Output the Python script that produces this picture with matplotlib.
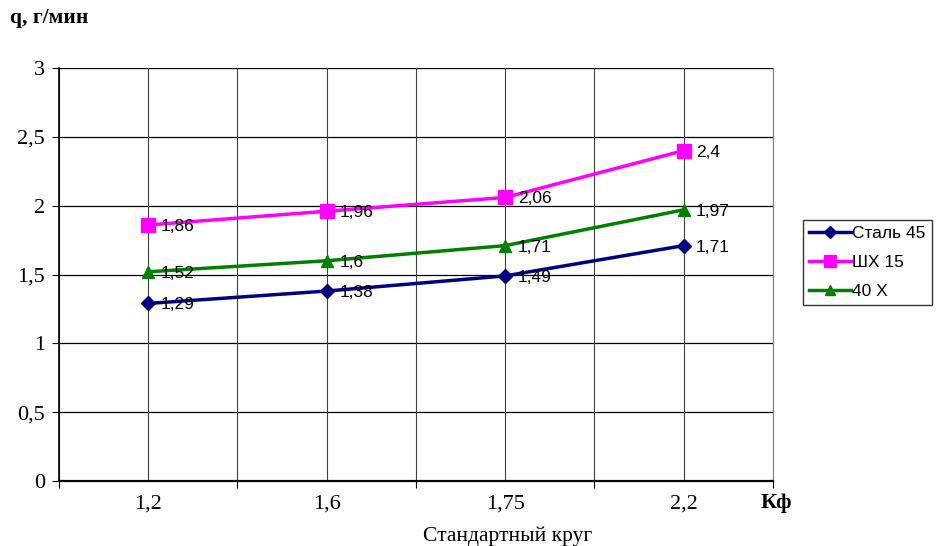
import matplotlib.pyplot as plt
import numpy as np

categories = ['1,2', '1,6', '1,75', '2,2']
stal45 = [1.29, 1.38, 1.49, 1.71]
shh15 = [1.86, 1.96, 2.06, 2.4]
x40 = [1.52, 1.6, 1.71, 1.97]
yticks = [0, 0.5, 1, 1.5, 2, 2.5, 3]

serif = 'Liberation Serif'
sans = 'Liberation Sans'

def fmt(v):
    return ('%g' % v).replace('.', ',')

fig = plt.figure(figsize=(9.38, 5.46), dpi=100)
ax = fig.add_axes([0.0629, 0.119, 0.761, 0.7564])

x = np.arange(len(categories))
series = [
    (stal45, 'Сталь 45', '#000080', 'D', 7),
    (shh15, 'ШХ 15', '#FF00FF', 's', 10),
    (x40, '40 Х', '#008000', '^', 8),
]
for vals, name, color, mk, ms in series:
    ax.plot(x, vals, color=color, lw=2.5, marker=mk, markersize=ms,
            label=name, zorder=3)
    for xi, v in zip(x, vals):
        ax.annotate(fmt(v), (xi, v), xytext=(9, -1), textcoords='offset points',
                    fontsize=12.5, family=sans, va='center', ha='left', zorder=4)

ax.set_xlim(-0.5, 3.5)
ax.set_ylim(0, 3)
ax.set_yticks(yticks)
ax.set_yticklabels([fmt(v) for v in yticks], family=serif, fontsize=16)
ax.set_xticks(np.arange(-0.5, 4, 1))
ax.set_xticklabels([])
ax.set_xticks(x, minor=True)
ax.set_xticklabels(categories, minor=True, family=serif, fontsize=16)
ax.tick_params(axis='x', which='minor', length=0, pad=10)
ax.tick_params(axis='x', which='major', length=5, direction='out')
ax.tick_params(axis='y', length=5, direction='out', pad=5)

# grid: horizontal at each tick, vertical at category centres and borders
for yv in yticks[1:]:
    ax.axhline(yv, color='black', lw=0.9, zorder=1)
for xv in np.arange(-0.5, 4, 0.5):
    ax.axvline(xv, color='#404040', lw=0.8, zorder=1)

ax.spines['top'].set_visible(False)
ax.spines['right'].set_color('#808080')
ax.spines['left'].set_linewidth(1.2)
ax.spines['bottom'].set_linewidth(1.6)

fig.text(0.011, 0.967, 'q, г/мин', family=serif, fontsize=15.5, fontweight='bold',
         va='center', ha='left')
fig.text(0.811, 0.079, 'Кф', family=serif, fontsize=16, fontweight='bold',
         va='center', ha='left')
fig.text(0.541, 0.017, 'Стандартный круг', family=serif, fontsize=15.5,
         va='center', ha='center')

leg = fig.legend(loc='upper left', bbox_to_anchor=(0.856, 0.597),
                 prop={'family': sans, 'size': 12.5}, frameon=True, fancybox=False,
                 handlelength=2.4, handletextpad=0.1, borderpad=0.35,
                 labelspacing=0.8, borderaxespad=0, markerscale=0.85)
leg.get_frame().set_edgecolor('black')
leg.get_frame().set_linewidth(1)

fig.savefig('out.png', dpi=100)
